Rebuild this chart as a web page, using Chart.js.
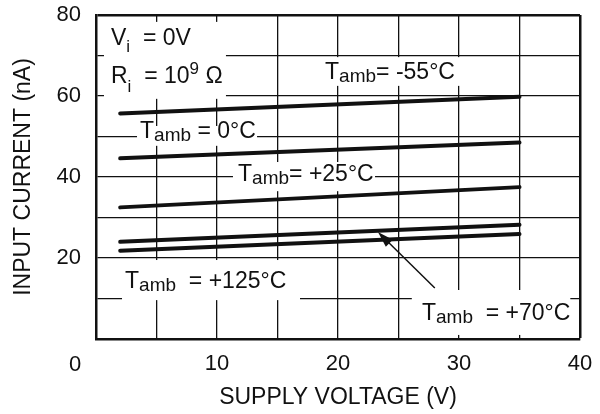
<!DOCTYPE html>
<html>
<head>
<meta charset="utf-8">
<script src="https://cdn.jsdelivr.net/npm/chart.js@4.4.1/dist/chart.umd.min.js"></script>
<style>
  body { margin: 0; background: #fff; }
  #wrap { width: 600px; height: 414px; }
</style>
</head>
<body>
<div id="wrap"><canvas id="chart" width="600" height="414"></canvas></div>
<script>
// supply voltage (V) at the two ends of each curve
const voltage = [2, 35];
// input current (nA) per ambient temperature
const currentM55 = [55.7, 59.8];
const current0 = [44.6, 48.5];
const current25 = [32.5, 37.5];
const current70 = [24.0, 28.2];
const current125 = [21.8, 25.9];

const xTicks = [10, 20, 30, 40];
const yTicks = [20, 40, 60, 80];

const FONT = "'Liberation Sans', Arial, sans-serif";
const INK = '#111';

function points(ys) {
    return voltage.map((v, i) => ({ x: v, y: ys[i] }));
}

function curve(label, ys) {
    return {
        label: label,
        data: points(ys),
        borderColor: INK,
        borderWidth: 4,
        borderCapStyle: 'round',
        pointRadius: 0,
        fill: false,
        tension: 0
    };
}

// label text pieces: size in px, dy = baseline shift
const notes = [
    { at: [1.24, 72.6], box: [0.66, 59.3, 10.74, 78.3], parts: [['V', 23, 0], ['i', 17, 7], ['  = 0V', 23, 0]] },
    { at: [1.24, 63.2], box: null, parts: [['R', 23, 0], ['i', 17, 9], ['  = 10', 23, 0], ['9', 17, -9], [' Ω', 23, 0]] },
    { at: [18.93, 64.2], box: [18.5, 62.5, 30.6, 69.6], parts: [['T', 23, 0], ['amb', 19, 3], ['= -55°C', 23, 0]] },
    { at: [3.64, 49.6], box: [3.39, 47.7, 13.31, 52.6], parts: [['T', 23, 0], ['amb', 19, 3], [' = 0°C', 23, 0]] },
    { at: [11.74, 39.0], box: [11.32, 36.5, 23.06, 43.7], parts: [['T', 23, 0], ['amb', 19, 3], ['= +25°C', 23, 0]] },
    { at: [2.40, 12.6], box: [2.15, 9.6, 16.86, 19.5], parts: [['T', 23, 0], ['amb', 19, 3], ['  = +125°C', 23, 0]] },
    { at: [26.94, 4.7], box: [26.1, 1.0, 39.2, 12.1], parts: [['T', 23, 0], ['amb', 19, 3], ['  = +70°C', 23, 0]] }
];

const notesPlugin = {
    id: 'notes',
    beforeDatasetsDraw(chart) {
        const { ctx, scales: { x, y } } = chart;
        ctx.save();
        // white patches that hide the grid under the labels
        ctx.fillStyle = '#fff';
        notes.forEach(n => {
            if (!n.box) return;
            const x1 = x.getPixelForValue(n.box[0]);
            const x2 = x.getPixelForValue(n.box[2]);
            const y1 = y.getPixelForValue(n.box[3]);
            const y2 = y.getPixelForValue(n.box[1]);
            ctx.fillRect(x1, y1, x2 - x1, y2 - y1);
        });
        ctx.fillStyle = INK;
        ctx.textBaseline = 'alphabetic';
        ctx.textAlign = 'left';
        notes.forEach(n => {
            let px = x.getPixelForValue(n.at[0]);
            const py = y.getPixelForValue(n.at[1]);
            n.parts.forEach(([t, size, dy]) => {
                ctx.font = size + 'px ' + FONT;
                ctx.fillText(t, px, py + dy);
                px += ctx.measureText(t).width;
            });
        });

        // origin label sits off to the lower left
        ctx.font = '22px ' + FONT;
        ctx.textAlign = 'center';
        ctx.textBaseline = 'middle';
        ctx.fillText('0', x.getPixelForValue(0) - 21, y.getPixelForValue(0) + 26);

        // arrow to the +70 curve
        const tx = x.getPixelForValue(28.0), ty = y.getPixelForValue(12.6);
        const hx = x.getPixelForValue(23.3), hy = y.getPixelForValue(26.4);
        const ang = Math.atan2(hy - ty, hx - tx);
        ctx.strokeStyle = INK;
        ctx.lineWidth = 1.5;
        ctx.beginPath();
        ctx.moveTo(tx, ty);
        ctx.lineTo(hx - 10 * Math.cos(ang), hy - 10 * Math.sin(ang));
        ctx.stroke();
        ctx.beginPath();
        ctx.moveTo(hx, hy);
        ctx.lineTo(hx - 16 * Math.cos(ang) + 5 * Math.sin(ang), hy - 16 * Math.sin(ang) - 5 * Math.cos(ang));
        ctx.lineTo(hx - 16 * Math.cos(ang) - 5 * Math.sin(ang), hy - 16 * Math.sin(ang) + 5 * Math.cos(ang));
        ctx.closePath();
        ctx.fill();
        ctx.restore();
    }
};

document.addEventListener('DOMContentLoaded', () => {
    const ctx = document.getElementById('chart').getContext('2d');
    new Chart(ctx, {
        type: 'line',
        data: {
            datasets: [
                curve('Tamb = -55°C', currentM55),
                curve('Tamb = 0°C', current0),
                curve('Tamb = +25°C', current25),
                curve('Tamb = +70°C', current70),
                curve('Tamb = +125°C', current125)
            ]
        },
        options: {
            responsive: false,
            devicePixelRatio: 1,
            animation: false,
            layout: { padding: { top: 15, right: 20, bottom: 0, left: 0 } },
            plugins: { legend: { display: false }, tooltip: { enabled: false } },
            scales: {
                x: {
                    type: 'linear',
                    min: 0, max: 40,
                    afterFit: s => { s.height = 75; s.paddingLeft = 0; s.paddingRight = 0; },
                    ticks: {
                        stepSize: 5,
                        autoSkip: false,
                        maxRotation: 0,
                        padding: 12,
                        color: INK,
                        font: { family: FONT, size: 22 },
                        callback: v => xTicks.includes(v) ? String(v) : ''
                    },
                    grid: {
                        color: INK,
                        drawTicks: false,
                        lineWidth: c => c.tick && c.tick.value === 40 ? 2.5 : 1.3
                    },
                    border: { color: INK, width: 2.5 },
                    title: {
                        display: true,
                        text: 'SUPPLY VOLTAGE (V)',
                        color: INK,
                        font: { family: FONT, size: 23, lineHeight: 1 },
                        padding: { top: 0, bottom: 5 }
                    }
                },
                y: {
                    min: 0, max: 80,
                    afterFit: s => { s.width = 96; s.paddingTop = 0; s.paddingBottom = 0; },
                    ticks: {
                        stepSize: 10,
                        padding: 15,
                        color: INK,
                        font: { family: FONT, size: 22 },
                        callback: v => yTicks.includes(v) ? String(v) : ''
                    },
                    grid: {
                        color: INK,
                        drawTicks: false,
                        lineWidth: c => c.tick && c.tick.value === 80 ? 2.5 : 1.3
                    },
                    border: { color: INK, width: 2.5 },
                    title: {
                        display: true,
                        text: 'INPUT CURRENT (nA)',
                        color: INK,
                        font: { family: FONT, size: 23, lineHeight: 1 },
                        padding: { top: 12, bottom: 0 }
                    }
                }
            }
        },
        plugins: [notesPlugin]
    });
});
</script>
</body>
</html>
